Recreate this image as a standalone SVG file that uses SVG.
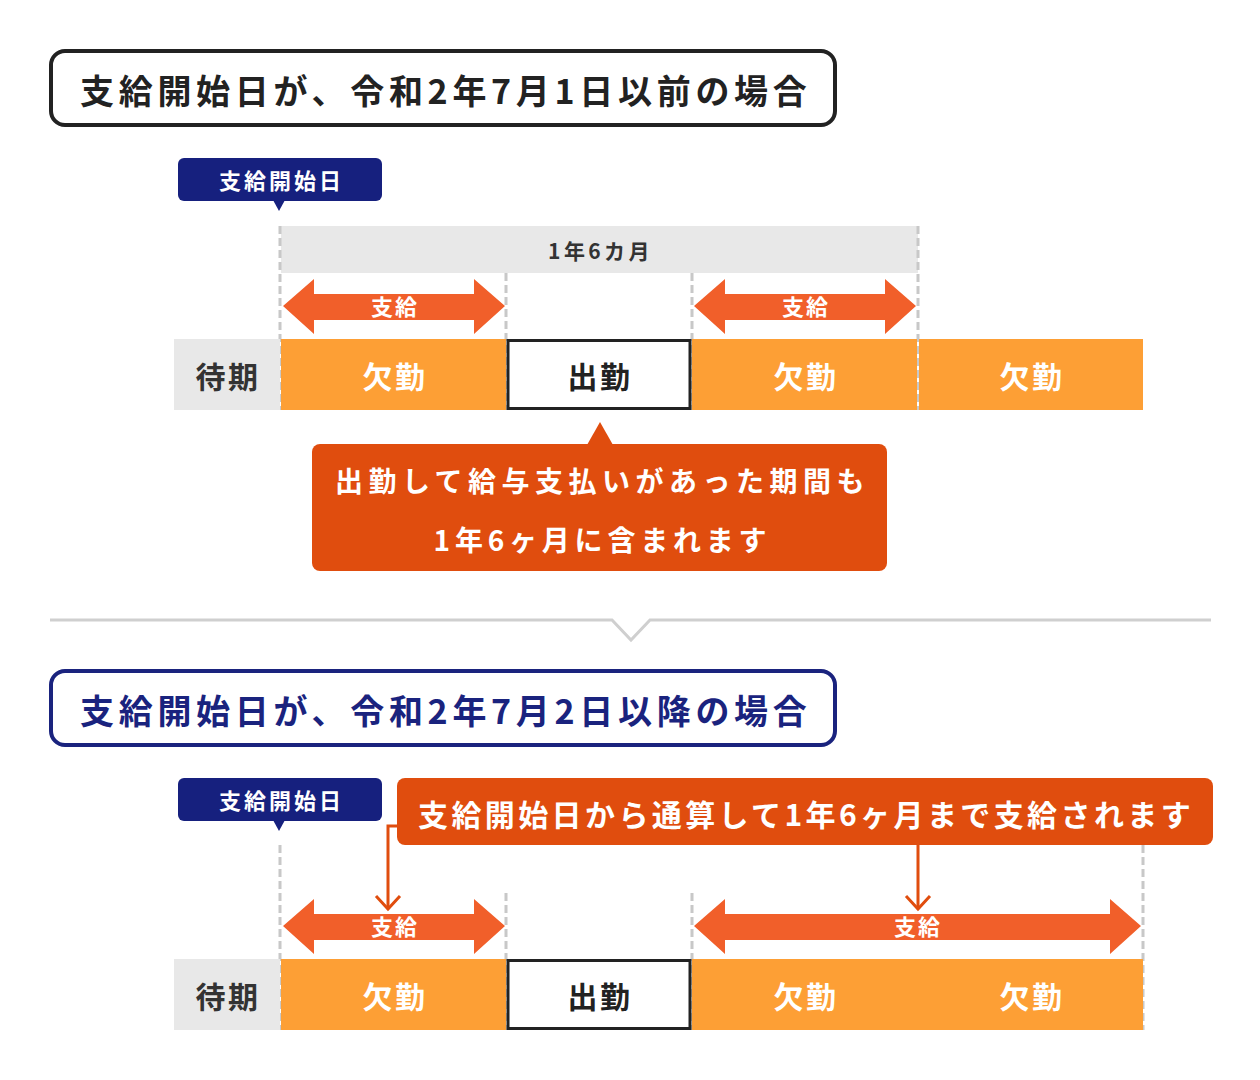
<svg xmlns="http://www.w3.org/2000/svg" width="1260" height="1080" viewBox="0 0 1260 1080">
<style>
text{font-family:"Noto Sans CJK JP","Noto Sans",sans-serif;font-weight:bold}
.t{font-size:34px;letter-spacing:4.7px}
.bd{fill:#fff;font-size:22px;text-anchor:middle;letter-spacing:3px}
.sk{fill:#fff;font-size:22px;text-anchor:middle;letter-spacing:2px}
.row{font-size:30px;text-anchor:middle;letter-spacing:2.5px}
.dash{stroke:#c8c8c8;stroke-width:3;stroke-dasharray:8 4;fill:none}
.arr{fill:#f15f2a}
.or{fill:#fd9f35}
.cl{fill:#e04d0e}
</style>
<rect width="1260" height="1080" fill="#fff"/>
<g id="title1"><rect x="51" y="51" width="784" height="74" rx="14" fill="#fff" stroke="#222" stroke-width="4"/><text x="80" y="104" class="t" fill="#222">支給開始日が、令和2年7月1日以前の場合</text></g>
<g id="badge1"><rect x="178" y="158" width="204" height="43" rx="6" fill="#16207e"/><path d="M273 200 L279 211 L285 200Z" fill="#16207e"/><text x="281.5" y="189" class="bd">支給開始日</text></g>
<g id="period1"><rect x="281" y="226" width="637" height="47" fill="#e8e8e8"/><text x="600.5" y="259" font-size="21" text-anchor="middle" fill="#333" letter-spacing="3.4">1年6カ月</text></g>
<g id="connectors">
<path class="dash" d="M280 226V410M506 273V410M692 273V410M918 226V410"/>
<path class="dash" d="M280 845V1030M506 893V1030M692 893V1030M1143 845V1030"/>
<path d="M50 620H612L631 640L650 620H1211" stroke="#cfcfcf" stroke-width="3" fill="none"/>
<path d="M397 826H388V908M918 845V908" stroke="#e04d0e" stroke-width="3" fill="none"/>
<path d="M376 896L388 909L400 896M906 896L918 909L930 896" stroke="#e04d0e" stroke-width="3" fill="none"/>
</g>
<g id="arrows1">
<path class="arr" d="M283 306L314 279V294H474V279L505 306L474 334V320H314V334Z"/><text x="395" y="315" class="sk">支給</text>
<path class="arr" d="M694 306L725 279V294H885V279L916 306L885 334V320H725V334Z"/><text x="806" y="315" class="sk">支給</text>
</g>
<g id="row1">
<rect x="174" y="339" width="106" height="71" fill="#e8e8e8"/><text x="228" y="388" class="row" fill="#333">待期</text>
<rect x="281" y="339" width="225" height="71" class="or"/><text x="395" y="388" class="row" fill="#fff">欠勤</text>
<rect x="508" y="340.5" width="182" height="68" fill="#fff" stroke="#222" stroke-width="3"/><text x="600" y="388" class="row" fill="#222">出勤</text>
<rect x="692" y="339" width="225" height="71" class="or"/><text x="806" y="388" class="row" fill="#fff">欠勤</text>
<rect x="919" y="339" width="224" height="71" class="or"/><text x="1032" y="388" class="row" fill="#fff">欠勤</text>
</g>
<g id="callout1"><rect x="312" y="444" width="575" height="127" rx="8" class="cl"/><path d="M587 445L600 422L613 445Z" class="cl"/>
<text x="602.5" y="492" font-size="28" fill="#fff" text-anchor="middle" letter-spacing="5.5">出勤して給与支払いがあった期間も</text>
<text x="602.5" y="551" font-size="28" fill="#fff" text-anchor="middle" letter-spacing="4.8">1年6ヶ月に含まれます</text></g>
<g id="title2"><rect x="51" y="671" width="784" height="74" rx="14" fill="#fff" stroke="#1a237e" stroke-width="4"/><text x="80" y="724" class="t" fill="#1a237e">支給開始日が、令和2年7月2日以降の場合</text></g>
<g id="badge2"><rect x="178" y="778" width="204" height="43" rx="6" fill="#16207e"/><path d="M273 820L279 831L285 820Z" fill="#16207e"/><text x="281.5" y="809" class="bd">支給開始日</text></g>
<g id="callout2"><rect x="397" y="778" width="816" height="67" rx="8" class="cl"/><text x="418" y="826" font-size="30" fill="#fff" letter-spacing="3.4">支給開始日から通算して1年6ヶ月まで支給されます</text></g>
<g id="arrows2">
<path class="arr" d="M283 926L314 899V914H474V899L505 926L474 954V940H314V954Z"/><text x="395" y="935" class="sk">支給</text>
<path class="arr" d="M694 926L725 899V914H1110V899L1141 926L1110 954V940H725V954Z"/><text x="918" y="935" class="sk">支給</text>
</g>
<g id="row2">
<rect x="174" y="959" width="106" height="71" fill="#e8e8e8"/><text x="228" y="1008" class="row" fill="#333">待期</text>
<rect x="281" y="959" width="225" height="71" class="or"/><text x="395" y="1008" class="row" fill="#fff">欠勤</text>
<rect x="508" y="960.5" width="182" height="68" fill="#fff" stroke="#222" stroke-width="3"/><text x="600" y="1008" class="row" fill="#222">出勤</text>
<rect x="692" y="959" width="451" height="71" class="or"/><text x="806" y="1008" class="row" fill="#fff">欠勤</text><text x="1032" y="1008" class="row" fill="#fff">欠勤</text>
</g>
</svg>
